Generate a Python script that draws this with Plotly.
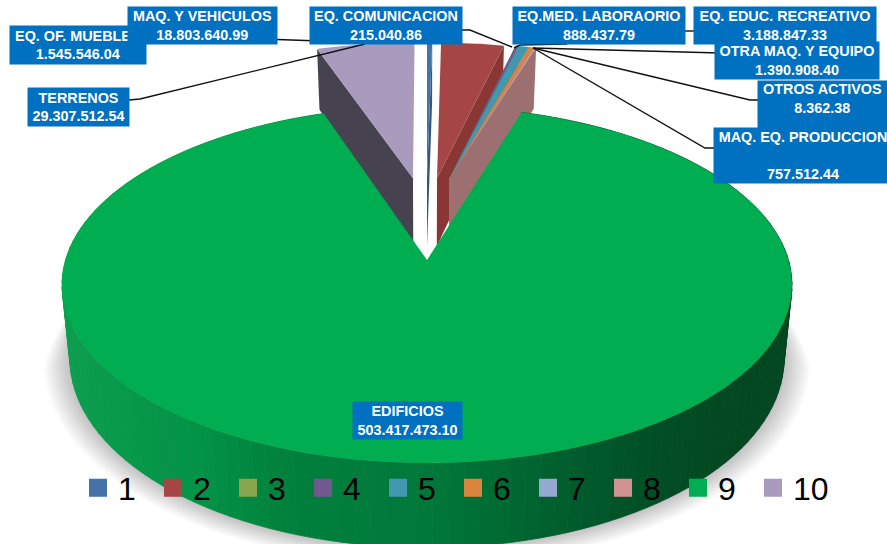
import math
import plotly.graph_objects as go

# ---- data ----
legend_ids = ["1", "2", "3", "4", "5", "6", "7", "8", "9", "10"]
names = ["EQ. OF. MUEBLES", "MAQ. Y VEHICULOS", "EQ. COMUNICACION", "EQ.MED. LABORAORIO",
         "EQ. EDUC. RECREATIVO", "OTRA MAQ. Y EQUIPO", "OTROS ACTIVOS",
         "MAQ. EQ. PRODUCCION", "EDIFICIOS", "TERRENOS"]
values = [1545546.04, 18803640.99, 215040.86, 888437.79, 3188847.33,
          1390908.40, 8362.38, 757512.44, 503417473.10, 29307512.54]
value_text = ["1.545.546.04", "18.803.640.99", "215.040.86", "888.437.79", "3.188.847.33",
              "1.390.908.40", "8.362.38", "757.512.44", "503.417.473.10", "29.307.512.54"]

# ---- styles ----
top_colors = ["#4572a7", "#a64644", "#89a54e", "#71588f", "#4198af",
              "#db843d", "#93a9cf", "#d19392", "#00ad50", "#a99bbd"]
wall_colors = ["#34557c", "#8a3635", "#66793a", "#54416a", "#307182",
               "#a2622d", "#6d7d99", "#9c7070", "#007a3a", "#47424f"]
BOX = "#0070c0"

# perspective model of the tilted pie, in page pixels
CX, CY, A, B, K, DEPTH, SHRINK = 427.0, 260.0, 361.5, 175.0, 0.138, 73.0, 0.022
# explode offsets (in pie radii) for each slice
offsets = [(0.0, .5), (.0296, .5), (.066, .5), (.066, .5), (.066, .5),
           (.066, .5), (.066, .5), (.066, .5), (0.0, 0.0), (-.0415, .5)]


def proj(X, Y, z=0.0):
    w = 1 + K * Y
    return CX + A * X * (1 - SHRINK * z) / w, CY - (B * Y - DEPTH * z) / w


def rim(i, t, z=0.0, r=1.0):
    dx, dy = offsets[i]
    return proj(r * math.sin(t) + dx, r * math.cos(t) + dy, z)


def arc(i, t0, t1, z=0.0, n=None, r=1.0):
    n = n or max(2, int(abs(t1 - t0) / 0.01))
    return [rim(i, t0 + (t1 - t0) * k / n, z, r) for k in range(n + 1)]


def poly(pts, color, line=False):
    xs = [p[0] for p in pts] + [pts[0][0]]
    ys = [p[1] for p in pts] + [pts[0][1]]
    return go.Scatter(x=xs, y=ys, mode="lines", fill="toself", fillcolor=color,
                      line=dict(color=color, width=0.8) if line else dict(width=0),
                      showlegend=False, hoverinfo="skip")


total = sum(values)
edges = [0.0]
for v in values:
    edges.append(edges[-1] + v / total * 2 * math.pi)

fig = go.Figure()

# soft shadow under the big slice, tapering away towards the sides
T0, T1 = math.radians(72), math.radians(288)
for k in range(12):
    extra = 0.006 * (k + 1)
    pts = []
    for j in range(161):
        t = T0 + (T1 - T0) * j / 160
        taper = min(1.0, min(t - T0, T1 - t) / math.radians(28))
        pts.append(rim(8, t, 1.0, 1 + extra * taper))
    fig.add_trace(poly(pts, "rgba(0,0,0,0.021)"))


def shade(x):
    stops = [(62, (12, 158, 78)), (200, (3, 146, 70)), (290, (0, 128, 60)), (430, (0, 120, 58)),
             (640, (0, 80, 38)), (720, (3, 72, 33)), (800, (3, 70, 33))]
    for (x0, c0), (x1, c1) in zip(stops, stops[1:]):
        if x <= x1:
            u = max(0.0, (x - x0) / (x1 - x0))
            return "rgb(%d,%d,%d)" % tuple(round(a + (b - a) * u) for a, b in zip(c0, c1))
    return "rgb(3,70,33)"


def draw_slice(i):
    t0, t1 = edges[i], edges[i + 1]
    apex = proj(*offsets[i])
    apex_low = proj(*offsets[i], 1.0)
    if i == 8:
        n = 150
        for k in range(n):
            a0 = t0 + (t1 - t0) * k / n
            a1 = t0 + (t1 - t0) * (k + 1) / n
            upper = arc(i, a0, a1, 0.0, 4)
            lower = arc(i, a1, a0, 1.0, 4)
            fig.add_trace(poly(upper + lower, shade(rim(i, (a0 + a1) / 2)[0]), line=True))
    else:
        edge_t = t0 if i == 9 else t1
        fig.add_trace(poly([rim(i, edge_t), apex, apex_low, rim(i, edge_t, 1.0)], wall_colors[i]))
    fig.add_trace(poly([apex] + arc(i, t0, t1), top_colors[i]))


for i in [9, 0, 1, 2, 3, 4, 5, 6, 7, 8]:
    draw_slice(i)

# legend entries
for i, lab in enumerate(legend_ids):
    fig.add_trace(go.Scatter(x=[None], y=[None], mode="markers", name=lab,
                             marker=dict(symbol="square", size=16, color=top_colors[i],
                                         line=dict(color=top_colors[i], width=2)),
                             hoverinfo="skip"))

# label boxes: slice index, left, top, right, bottom
boxes = [(0, 10, 26, 146, 64), (1, 128, 7, 277, 44), (2, 310, 7, 462, 44),
         (3, 513, 7, 685, 44), (4, 694, 7, 876, 44), (5, 715, 42, 879, 79),
         (6, 758, 81, 887, 128), (7, 714, 128, 892, 183), (8, 353, 402, 462, 439),
         (9, 28, 88, 129, 126)]

leaders = ["M277,39.5 L320,41", "M462,30 L470,30 L512,47", "M129,100 L140,99 L365,44",
           "M567,44 L520,45 L514,48", "M680,31 L700,31", "M720,53 L533,48",
           "M533,48 L750,100 L760,100", "M533,48 L705,148 L716,148"]
shapes = [dict(type="path", path=p, line=dict(color="#111111", width=1.4), xref="x", yref="y")
          for p in leaders]

annotations = []
for i, x0, y0, x1, y1 in boxes:
    if i == 7:
        txt = f"<b>{names[i]}</b><br> <br><b>{value_text[i]}</b>"
    else:
        txt = f"<b>{names[i]}</b><br><b>{value_text[i]}</b>"
    annotations.append(dict(
        x=(x0 + x1) / 2, y=(y0 + y1) / 2, xref="x", yref="y", text=txt, showarrow=False,
        width=x1 - x0, height=y1 - y0, xanchor="center", yanchor="middle", align="center",
        valign="top" if i == 6 else "middle", bgcolor=BOX, borderpad=0,
        font=dict(family="Liberation Sans, Arial, sans-serif", size=14.4, color="white")))

fig.update_layout(
    width=887, height=544, margin=dict(l=0, r=0, t=0, b=0),
    paper_bgcolor="white", plot_bgcolor="white",
    xaxis=dict(range=[0, 887], visible=False, fixedrange=True),
    yaxis=dict(range=[544, 0], visible=False, fixedrange=True),
    shapes=shapes, annotations=annotations,
    legend=dict(orientation="h", x=78 / 887, y=1 - 488 / 544, xanchor="left", yanchor="middle",
                bgcolor="rgba(0,0,0,0)", entrywidth=30, entrywidthmode="pixels",
                font=dict(family="Liberation Sans, Arial, sans-serif", size=32, color="black")),
)
fig.write_html("out.html", config={"displayModeBar": False},
               post_script="document.body.style.margin='0';")
